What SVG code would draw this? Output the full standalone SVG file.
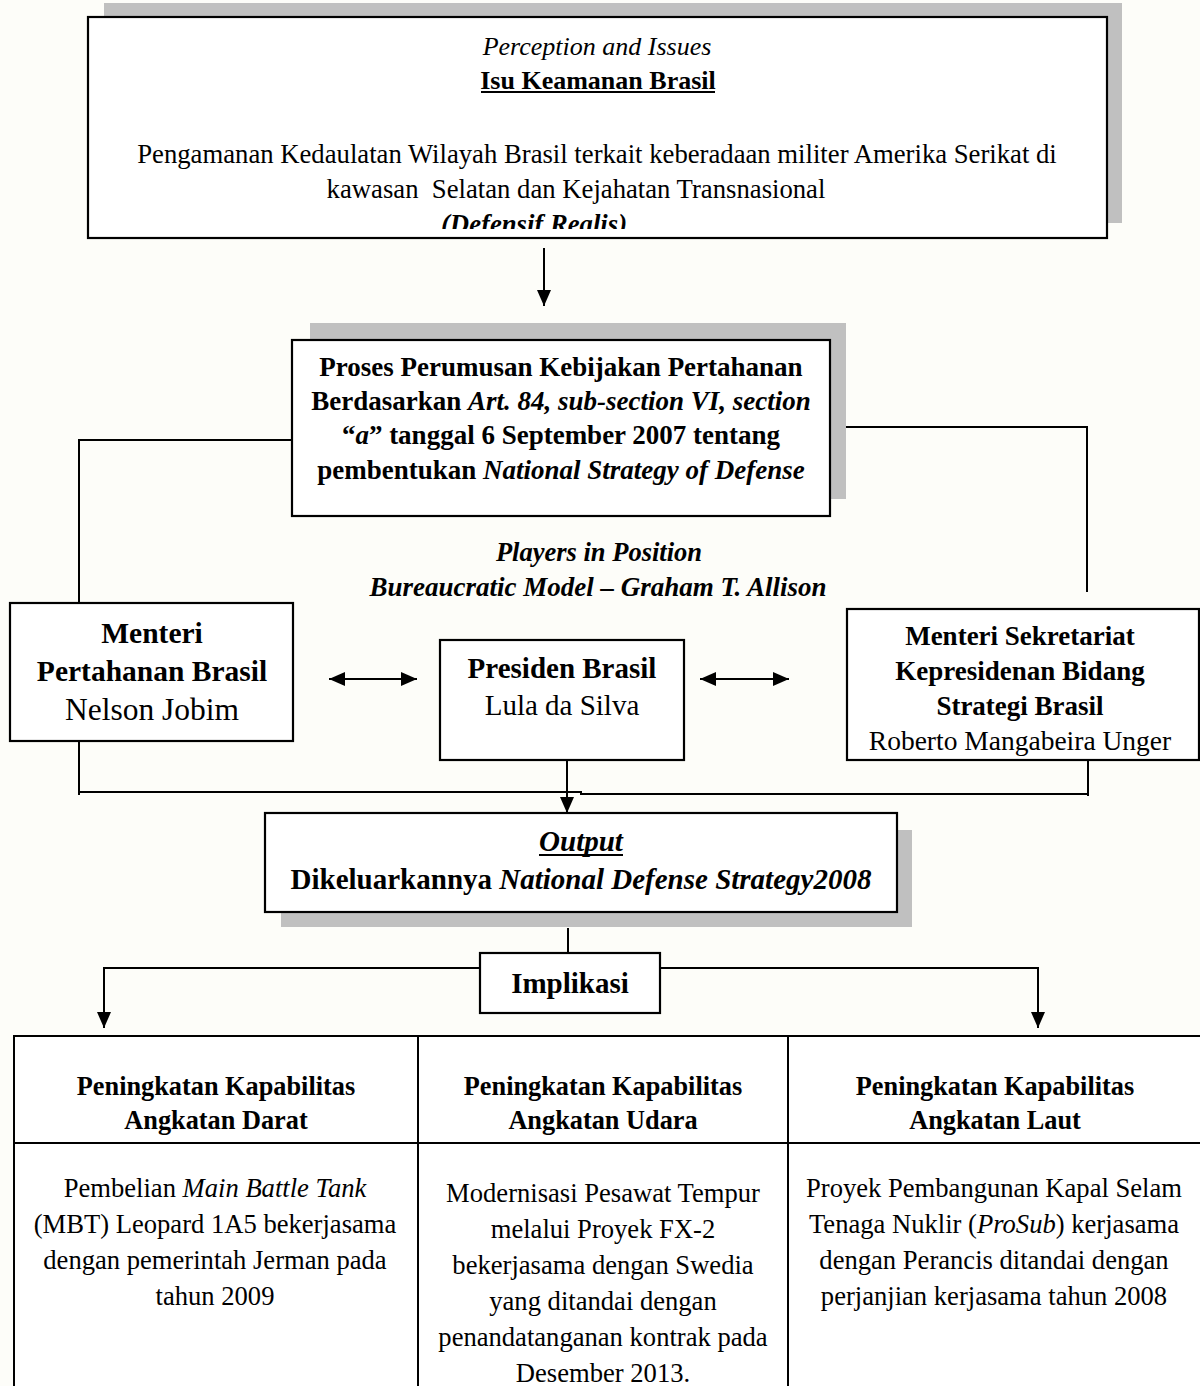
<svg xmlns="http://www.w3.org/2000/svg" width="1200" height="1386" viewBox="0 0 1200 1386">
<defs>
<style>
text{font-family:"Liberation Serif","Times New Roman",serif;fill:#000;text-anchor:middle}
.b{font-weight:bold}
.i{font-style:italic}
.box{fill:#fff;stroke:#000;stroke-width:2.2}
.sh{fill:#c0c0c0}
.ln{fill:none;stroke:#000;stroke-width:2}
.pre{white-space:pre}
</style>
<marker id="arr" viewBox="0 0 16 14" refX="16" refY="7" markerWidth="16" markerHeight="14" markerUnits="userSpaceOnUse" orient="auto-start-reverse">
<path d="M0,0 L16,7 L0,14 z" fill="#000"/>
</marker>
<clipPath id="clipTop"><rect x="88" y="17" width="1019" height="212"/></clipPath>
<clipPath id="clipR"><rect x="847" y="609" width="353" height="148"/></clipPath>
</defs>
<rect width="1200" height="1386" fill="#fdfdf9"/>

<g id="connectors">
<line class="ln" x1="544" y1="248" x2="544" y2="306" marker-end="url(#arr)"/>
<polyline class="ln" points="292,440 79,440 79,603"/>
<polyline class="ln" points="830,427 1087,427 1087,592"/>
<line class="ln" x1="585" y1="441" x2="585" y2="514"/>
<line class="ln" x1="329" y1="679" x2="417" y2="679" marker-start="url(#arr)" marker-end="url(#arr)"/>
<line class="ln" x1="700" y1="679" x2="789" y2="679" marker-start="url(#arr)" marker-end="url(#arr)"/>
<polyline class="ln" points="79,741 79,795"/>
<polyline class="ln" points="79,792 581,792 581,794 1088,794"/>
<line class="ln" x1="1088" y1="760" x2="1088" y2="796"/>
<line class="ln" x1="567" y1="760" x2="567" y2="813" marker-end="url(#arr)"/>
<line class="ln" x1="568" y1="928" x2="568" y2="953"/>
<polyline class="ln" points="480,968 104,968 104,1028" marker-end="url(#arr)"/>
<polyline class="ln" points="660,968 1038,968 1038,1028" marker-end="url(#arr)"/>
</g>

<g id="node-issues">
<rect class="sh" x="104" y="3" width="1018" height="220"/>
<rect class="box" x="88" y="17" width="1019" height="221"/>
<text class="i" x="597" y="55" font-size="26">Perception and Issues</text>
<text class="b" x="598" y="89" font-size="26">Isu Keamanan Brasil</text>
<line x1="481" y1="92" x2="715" y2="92" stroke="#000" stroke-width="2"/>
<text x="597" y="163" font-size="26.7">Pengamanan Kedaulatan Wilayah Brasil terkait keberadaan militer Amerika Serikat di</text>
<text class="pre" x="576" y="198" font-size="26.7">kawasan  Selatan dan Kejahatan Transnasional</text>
<g clip-path="url(#clipTop)"><text class="b i" x="534" y="233" font-size="26.7">(Defensif Realis)</text></g>
</g>

<g id="node-proses">
<rect class="sh" x="310" y="323" width="536" height="176"/>
<rect class="box" x="292" y="340" width="538" height="176"/>
<text class="b" x="561" y="376" font-size="27">Proses Perumusan Kebijakan Pertahanan</text>
<text class="b" x="561" y="410" font-size="27">Berdasarkan <tspan class="i">Art. 84, sub-section VI, section</tspan></text>
<text class="b" x="561" y="444" font-size="27">“<tspan class="i">a</tspan>” tanggal 6 September 2007 tentang</text>
<text class="b" x="561" y="479" font-size="27">pembentukan <tspan class="i">National Strategy of Defense</tspan></text>
</g>

<g id="label-players">
<text class="b i" x="599" y="561" font-size="26.5">Players in Position</text>
<text class="b i" x="598" y="596" font-size="27">Bureaucratic Model – Graham T. Allison</text>
</g>

<g id="node-menhan">
<rect class="box" x="10" y="603" width="283" height="138"/>
<text class="b" x="152" y="643" font-size="29.5">Menteri</text>
<text class="b" x="152" y="681" font-size="29.5">Pertahanan Brasil</text>
<text x="152" y="720" font-size="31.5">Nelson Jobim</text>
</g>

<g id="node-presiden">
<rect class="box" x="440" y="640" width="244" height="120"/>
<text class="b" x="562" y="678" font-size="29">Presiden Brasil</text>
<text x="562" y="715" font-size="29">Lula da Silva</text>
</g>

<g id="node-sekretariat">
<rect class="box" x="847" y="609" width="352" height="151"/>
<text class="b" x="1020" y="645" font-size="27">Menteri Sekretariat</text>
<text class="b" x="1020" y="680" font-size="27">Kepresidenan Bidang</text>
<text class="b" x="1020" y="715" font-size="27">Strategi Brasil</text>
<g clip-path="url(#clipR)"><text x="1020" y="750" font-size="27.5">Roberto Mangabeira Unger</text></g>
</g>

<g id="node-output">
<rect class="sh" x="281" y="830" width="631" height="97"/>
<rect class="box" x="265" y="813" width="632" height="99"/>
<text class="b i" x="581" y="851" font-size="29">Output</text>
<line x1="539" y1="855" x2="623" y2="855" stroke="#000" stroke-width="2"/>
<text class="b" x="581" y="889" font-size="29">Dikeluarkannya <tspan class="i">National Defense Strategy2008</tspan></text>
</g>

<g id="node-implikasi">
<rect class="box" x="480" y="953" width="180" height="60"/>
<text class="b" x="570" y="993" font-size="29">Implikasi</text>
</g>

<g id="node-table">
<rect fill="#fff" x="14" y="1036" width="1190" height="360"/>
<line class="ln" x1="13" y1="1036" x2="1200" y2="1036" stroke-width="3"/>
<line class="ln" x1="14" y1="1036" x2="14" y2="1386"/>
<line class="ln" x1="418" y1="1036" x2="418" y2="1386"/>
<line class="ln" x1="788" y1="1036" x2="788" y2="1386"/>
<line class="ln" x1="14" y1="1143" x2="1200" y2="1143"/>
<text class="b" x="216" y="1095" font-size="26.3">Peningkatan Kapabilitas</text>
<text class="b" x="216" y="1129" font-size="26.3">Angkatan Darat</text>
<text class="b" x="603" y="1095" font-size="26.3">Peningkatan Kapabilitas</text>
<text class="b" x="603" y="1129" font-size="26.3">Angkatan Udara</text>
<text class="b" x="995" y="1095" font-size="26.3">Peningkatan Kapabilitas</text>
<text class="b" x="995" y="1129" font-size="26.3">Angkatan Laut</text>
<text x="215" y="1197" font-size="26.6">Pembelian <tspan class="i">Main Battle Tank</tspan></text>
<text x="215" y="1233" font-size="26.6">(MBT) Leopard 1A5 bekerjasama</text>
<text x="215" y="1269" font-size="26.6">dengan pemerintah Jerman pada</text>
<text x="215" y="1305" font-size="26.6">tahun 2009</text>
<text x="603" y="1202" font-size="26.6">Modernisasi Pesawat Tempur</text>
<text x="603" y="1238" font-size="26.6">melalui Proyek FX-2</text>
<text x="603" y="1274" font-size="26.6">bekerjasama dengan Swedia</text>
<text x="603" y="1310" font-size="26.6">yang ditandai dengan</text>
<text x="603" y="1346" font-size="26.6">penandatanganan kontrak pada</text>
<text x="603" y="1382" font-size="26.6">Desember 2013.</text>
<text x="994" y="1197" font-size="26.6">Proyek Pembangunan Kapal Selam</text>
<text x="994" y="1233" font-size="26.6">Tenaga Nuklir (<tspan class="i">ProSub</tspan>) kerjasama</text>
<text x="994" y="1269" font-size="26.6">dengan Perancis ditandai dengan</text>
<text x="994" y="1305" font-size="26.6">perjanjian kerjasama tahun 2008</text>
</g>
</svg>
